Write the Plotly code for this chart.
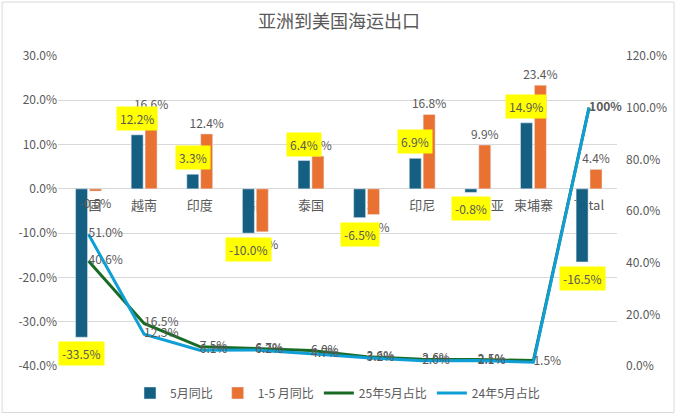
import plotly.graph_objects as go

categories = ["中国", "越南", "印度", "韩国", "泰国", "日本", "印尼", "马来西亚", "柬埔寨", "Total"]
may_yoy = [-33.5, 12.2, 3.3, -10.0, 6.4, -6.5, 6.9, -0.8, 14.9, -16.5]
jan_may_yoy = [-0.5, 16.6, 12.4, -9.7, 7.4, -5.8, 16.8, 9.9, 23.4, 4.4]
share_2025 = [40.6, 16.5, 7.5, 6.7, 6.0, 3.6, 2.6, 2.5, 2.1, 100.0]
share_2024 = [51.0, 12.3, 6.1, 6.2, 4.7, 3.2, 2.0, 2.1, 1.5, 100.0]

left_ticks = [-40, -30, -20, -10, 0, 10, 20, 30]
right_ticks = [0, 20, 40, 60, 80, 100, 120]

C_DARK = "#156082"
C_ORANGE = "#E97132"
C_GREEN = "#196B24"
C_LBLUE = "#0F9ED5"
GRAY = "#595959"
FONT = "Noto Sans CJK SC, Noto Sans, sans-serif"

share_2025_text = [f"{v:.1f}%" for v in share_2025[:-2]] + ["", ""]
share_2024_text = [f"{v:.1f}%" for v in share_2024[:-1]] + ["<b>100%</b>"]

fig = go.Figure()
fig.add_trace(go.Bar(
    x=categories, y=may_yoy, name="5月同比", marker_color=C_DARK,
))
fig.add_trace(go.Bar(
    x=categories, y=jan_may_yoy, name="1-5 月同比", marker_color=C_ORANGE,
    text=[f"{v:.1f}%" for v in jan_may_yoy], textposition="outside",
    textfont=dict(color=GRAY, size=12, family=FONT), constraintext="none",
    cliponaxis=False,
))
fig.add_trace(go.Scatter(
    x=categories, y=share_2025, name="25年5月占比", yaxis="y2",
    mode="lines+text", line=dict(color=C_GREEN, width=3),
    text=share_2025_text, textposition="middle right",
    textfont=dict(color=GRAY, size=12, family=FONT), cliponaxis=False,
))
fig.add_trace(go.Scatter(
    x=categories, y=share_2024, name="24年5月占比", yaxis="y2",
    mode="lines+text", line=dict(color=C_LBLUE, width=3),
    text=share_2024_text, textposition="middle right",
    textfont=dict(color=GRAY, size=12, family=FONT), cliponaxis=False,
))

# yellow highlighted labels for 5月同比
for c, v in zip(categories, may_yoy):
    fig.add_annotation(
        x=c, y=v, xref="x", yref="y", text=f"{v:.1f}%", showarrow=False,
        xshift=-7, yshift=4 if v >= 0 else -4,
        yanchor="bottom" if v >= 0 else "top",
        bgcolor="#FFFF00", borderpad=3,
        font=dict(color=GRAY, size=12, family=FONT),
    )

fig.update_layout(
    width=678, height=417,
    margin=dict(l=58, r=61, t=56, b=51, autoexpand=False),
    paper_bgcolor="white", plot_bgcolor="white",
    font=dict(family=FONT, color=GRAY, size=12),
    title=dict(text="亚洲到美国海运出口", x=0.5, xanchor="center", y=0.947,
               yanchor="middle", font=dict(size=18, color=GRAY, family=FONT)),
    barmode="group", bargap=0.5, bargroupgap=0.14,
    showlegend=True,
    legend=dict(orientation="h", x=0.5, xanchor="center", y=-0.087,
                yanchor="middle", font=dict(size=12, color=GRAY, family=FONT),
                itemwidth=30, bgcolor="rgba(0,0,0,0)"),
    xaxis=dict(anchor="free", position=(0 - left_ticks[0]) / (left_ticks[-1] - left_ticks[0]),
               showline=False, ticks="", showgrid=False, ticklabelstandoff=7,
               layer="below traces",
               tickfont=dict(size=13, color=GRAY, family=FONT)),
    yaxis=dict(range=[left_ticks[0], left_ticks[-1]], tickvals=left_ticks,
               ticktext=[f"{t:.1f}%" for t in left_ticks],
               showgrid=True, gridcolor="#D9D9D9", gridwidth=1,
               zeroline=True, zerolinecolor="#D9D9D9", zerolinewidth=1,
               showline=False, ticks="",
               tickfont=dict(size=12, color=GRAY, family=FONT)),
    yaxis2=dict(range=[right_ticks[0], right_ticks[-1]], tickvals=right_ticks,
                ticktext=[f"{t:.1f}%" for t in right_ticks],
                overlaying="y", side="right", showgrid=False, zeroline=False,
                showline=False, ticks="", ticklabelstandoff=8,
                tickfont=dict(size=12, color=GRAY, family=FONT)),
)

fig.add_shape(type="rect", xref="paper", yref="paper",
              x0=-0.100, x1=1.102, y0=-0.150, y1=1.174,
              line=dict(color="#D9D9D9", width=1), layer="below")

fig.write_html("out.html", config={"displayModeBar": False},
               post_script="document.body.style.margin='0px';")
